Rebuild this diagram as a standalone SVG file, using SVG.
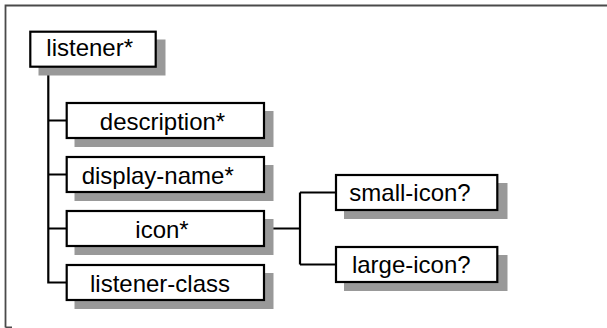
<svg xmlns="http://www.w3.org/2000/svg" width="607" height="328" viewBox="0 0 607 328">
<style>
.sh{fill:#999999;stroke:none}
.bx{fill:#ffffff;stroke:#000000;stroke-width:2.2}
.t{font-family:"Liberation Sans",Arial,sans-serif;font-size:24px;fill:#000000;text-anchor:middle}
.c{fill:none;stroke:#000000;stroke-width:2.2}
</style>
<rect width="607" height="328" fill="#ffffff"/>
<path d="M5.5 327.5 H12 M5.5 327.5 V5.5 H607" fill="none" stroke="#4a4a4a" stroke-width="1.8"/>
<g id="connectors">
<path class="c" d="M48.3 66.7 V282.5 H66.7 M48.3 120.5 H66.7 M48.3 174.5 H66.7 M48.3 228.5 H66.7"/>
<path class="c" d="M264 228.5 H300 M300 192.5 V264.5 M300 192.5 H336 M300 264.5 H336"/>
</g>
<g id="listener">
<rect class="sh" x="38.5" y="39.5" width="127" height="36"/>
<rect class="bx" x="30.3" y="31.7" width="125.4" height="35"/>
<text class="t" x="89.7" y="56">listener*</text>
</g>
<g id="description">
<rect class="sh" x="74.5" y="111" width="199" height="36"/>
<rect class="bx" x="66.7" y="103" width="197.3" height="35"/>
<text class="t" x="162.5" y="129.5">description*</text>
</g>
<g id="display-name">
<rect class="sh" x="74.5" y="165" width="199" height="36"/>
<rect class="bx" x="66.7" y="157" width="197.3" height="35"/>
<text class="t" x="157.7" y="183.5">display-name*</text>
</g>
<g id="icon">
<rect class="sh" x="74.5" y="219" width="199" height="36"/>
<rect class="bx" x="66.7" y="211" width="197.3" height="35"/>
<text class="t" x="162" y="237.5">icon*</text>
</g>
<g id="listener-class">
<rect class="sh" x="74.5" y="273" width="199" height="36"/>
<rect class="bx" x="66.7" y="265" width="197.3" height="35"/>
<text class="t" x="160" y="291.5">listener-class</text>
</g>
<g id="small-icon">
<rect class="sh" x="344" y="183" width="163.5" height="36"/>
<rect class="bx" x="336" y="175" width="161.3" height="35"/>
<text class="t" x="410" y="201">small-icon?</text>
</g>
<g id="large-icon">
<rect class="sh" x="344" y="255" width="163.5" height="36"/>
<rect class="bx" x="336" y="247" width="161.3" height="35"/>
<text class="t" x="411.3" y="273">large-icon?</text>
</g>
</svg>
